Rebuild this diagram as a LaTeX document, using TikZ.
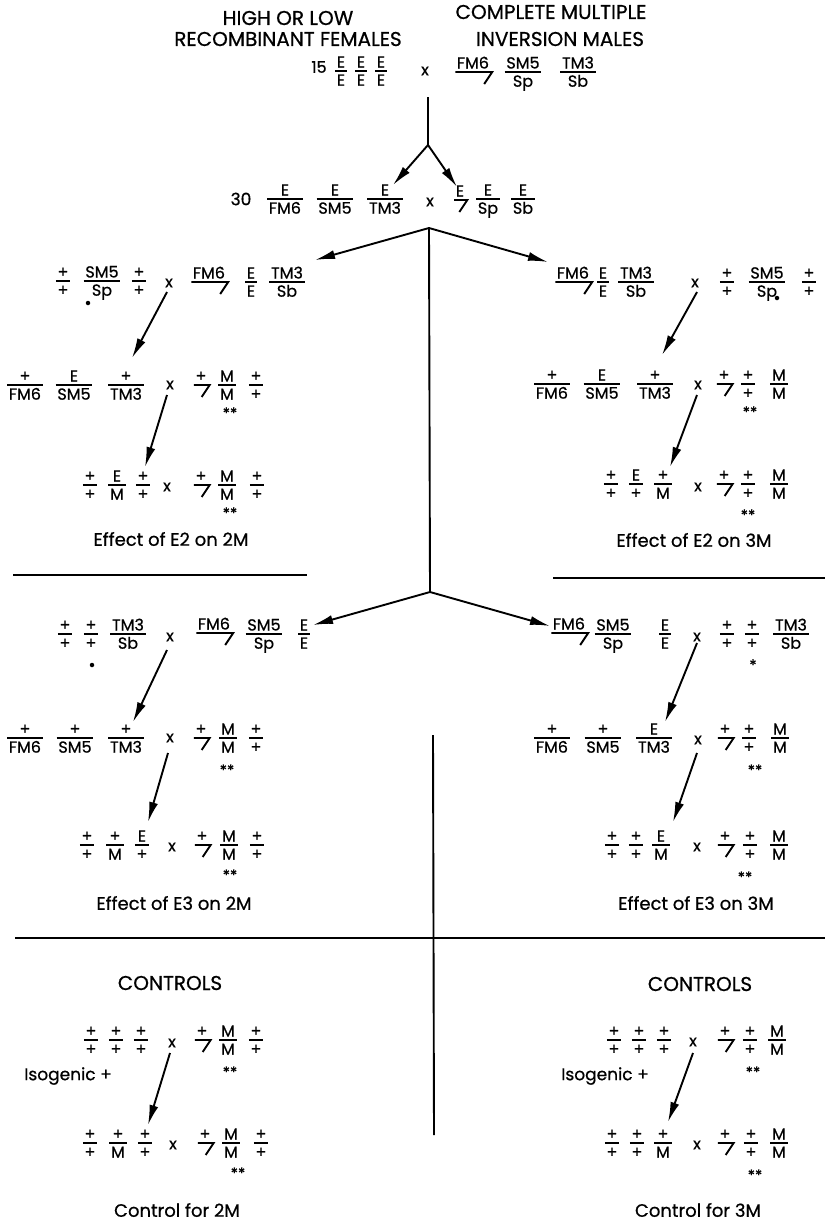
\documentclass[tikz,border=0pt]{standalone}
\usepackage{fontspec}
\setmainfont{Poppins}[FakeBold=0.7]
\usetikzlibrary{arrows.meta,calc}
\newcommand\gfr[5]{%
 \node[numr] (#1n) at (#2,#3) {#4};
 \node[denr] (#1d) at (#2,#3) {#5};
 \draw[barline] let \p1=(#1n.west),\p2=(#1d.west),\p3=(#1n.east),\p4=(#1d.east) in
   ({min(\x1,\x2)-1.5},#3) -- ({max(\x3,\x4)+1.5},#3);
}
\newcommand\gfy[4]{%
 \node[numr] (#1n) at (#2,#3) {#4};
 \draw[ystyle] let \p1=(#1n.west),\p2=(#1n.east) in
   ({\x1-1.5},#3) -- ({\x2+3},#3) -- ({\x2-5},{#3+12});
}
\begin{document}
\begin{tikzpicture}[x=1pt,y=-1pt,
 ff/.style={font=\fontsize{16}{16}\selectfont, inner sep=0pt},
 numr/.style={ff, anchor=base, yshift=3.5pt},
 denr/.style={ff, anchor=north, yshift=-3.5pt, text height=11pt, text depth=3pt},
 barline/.style={line width=1.6pt},
 ystyle/.style={line width=1.9pt, line join=miter},
 hd/.style={font=\fontsize{20}{22}\selectfont, inner sep=0pt},
 lab/.style={font=\fontsize{18}{20}\selectfont, inner sep=0pt},
 iso/.style={font=\fontsize{17}{18}\selectfont, inner sep=0pt},
 mk/.style={font=\fontsize{15}{15}\selectfont, inner sep=0pt},
 dotm/.style={circle, fill, inner sep=0pt, minimum size=4.5pt},
 arr/.style={line width=1.9pt, -{Latex[length=20pt,width=9pt]}},
 ln/.style={line width=1.9pt},
]
\useasboundingbox (0,0) rectangle (825,1224);
% headers
\node[hd] (hdA) at (288,18) {HIGH OR LOW};
\node[hd] (hdB) at (288,39) {RECOMBINANT FEMALES};
\node[hd] (hdC) at (551,12) {COMPLETE MULTIPLE};
\node[hd] (hdD) at (560,39) {INVERSION MALES};
% row 1
\node[ff, font=\fontsize{16}{16}\selectfont] (n15) at (319,67) {15};
\gfr{a1}{341}{71}{E}{E}
\gfr{a2}{361}{71}{E}{E}
\gfr{a3}{381}{71}{E}{E}
\node[ff] (ax) at (425,71) {x};
\gfy{a4}{473}{72}{FM6}
\gfr{a5}{523}{72}{SM5}{Sp}
\gfr{a6}{578}{72}{TM3}{Sb}
\coordinate (v1a) at (428,97);
\coordinate (v1b) at (428,145);
\coordinate (t1l) at (393,185);
\coordinate (t1r) at (457,187);
\draw[ln] (v1a) -- (v1b);
\draw[arr] (v1b) -- (t1l);
\draw[arr] (v1b) -- (t1r);
% row 2
\node[ff, font=\fontsize{17}{17}\selectfont] (n30) at (241,199) {30};
\gfr{b1}{285}{199}{E}{FM6}
\gfr{b2}{335}{199}{E}{SM5}
\gfr{b3}{385}{199}{E}{TM3}
\node[ff] (bx) at (430,202) {x};
\gfy{b4}{460}{200}{E}
\gfr{b5}{488}{199}{E}{Sp}
\gfr{b6}{523}{199}{E}{Sb}
\coordinate (v2) at (429,228);
\coordinate (v3) at (430,592);
\coordinate (t2l) at (315,260);
\coordinate (t2r) at (548,262);
\coordinate (t3l) at (313,625);
\coordinate (t3r) at (550,626);
\draw[ln] (v2) -- (v3);
\draw[arr] (v2) -- (t2l);
\draw[arr] (v2) -- (t2r);
\draw[arr] (v3) -- (t3l);
\draw[arr] (v3) -- (t3r);
% separators
\coordinate (s1a) at (13,575); \coordinate (s1b) at (307,575);
\coordinate (s2a) at (553,578); \coordinate (s2b) at (825,578);
\coordinate (s3a) at (15,938); \coordinate (s3b) at (825,938);
\coordinate (w1) at (433,735); \coordinate (w2) at (434,1135);
\draw[ln] (s1a) -- (s1b);
\draw[ln] (s2a) -- (s2b);
\draw[ln] (s3a) -- (s3b);
\draw[ln] (w1) -- (w2);
% ---------- E2 on 2M
\gfr{c1}{63}{281}{+}{+}
\gfr{c2}{102}{281}{SM5}{Sp}
\gfr{c3}{139}{281}{+}{+}
\node[dotm] (c2m) at (88,303) {};
\node[ff] (cx) at (169,283) {x};
\gfy{c4}{209}{282}{FM6}
\gfr{c5}{251}{282}{E}{E}
\gfr{c6}{287}{282}{TM3}{Sb}
\gfr{d1}{25}{385}{+}{FM6}
\gfr{d2}{74}{385}{E}{SM5}
\gfr{d3}{126}{385}{+}{TM3}
\node[ff] (dx) at (170,385) {x};
\gfy{d4}{201}{385}{+}
\gfr{d5}{227}{385}{M}{M}
\gfr{d6}{256}{385}{+}{+}
\node[mk] (d5m) at (230,413) {**};
\coordinate (ca1) at (167,292); \coordinate (ca2) at (132,358);
\coordinate (ca3) at (167,395); \coordinate (ca4) at (145,467);
\draw[arr] (ca1) -- (ca2);
\draw[arr] (ca3) -- (ca4);
\gfr{e1}{90}{485}{+}{+}
\gfr{e2}{117}{485}{E}{M}
\gfr{e3}{143}{485}{+}{+}
\node[ff] (ex) at (167,487) {x};
\gfy{e4}{201}{485}{+}
\gfr{e5}{227}{485}{M}{M}
\gfr{e6}{257}{485}{+}{+}
\node[mk] (e5m) at (230,513) {**};
\node[lab] (labA) at (171,539) {Effect of E2 on 2M};
% ---------- E2 on 3M
\gfy{f1}{573}{282}{FM6}
\gfr{f2}{603}{282}{E}{E}
\gfr{f3}{636}{282}{TM3}{Sb}
\node[ff] (fx) at (695,283) {x};
\gfr{f4}{727}{282}{+}{+}
\gfr{f5}{767}{282}{SM5}{Sp}
\node[dotm] (f5m) at (777,298) {};
\gfr{f6}{809}{282}{+}{+}
\gfr{g1}{552}{384}{+}{FM6}
\gfr{g2}{602}{384}{E}{SM5}
\gfr{g3}{655}{384}{+}{TM3}
\node[ff] (gx) at (698,385) {x};
\gfy{g4}{724}{384}{+}
\gfr{g5}{748}{384}{+}{+}
\gfr{g6}{779}{384}{M}{M}
\node[mk] (g5m) at (750,412) {**};
\coordinate (fa1) at (697,292); \coordinate (fa2) at (662,355);
\coordinate (fa3) at (697,395); \coordinate (fa4) at (670,467);
\draw[arr] (fa1) -- (fa2);
\draw[arr] (fa3) -- (fa4);
\gfr{h1}{611}{484}{+}{+}
\gfr{h2}{636}{484}{E}{+}
\gfr{h3}{663}{484}{+}{M}
\node[ff] (hx) at (698,487) {x};
\gfy{h4}{724}{484}{+}
\gfr{h5}{748}{484}{+}{+}
\gfr{h6}{779}{484}{M}{M}
\node[mk] (h5m) at (748,515) {**};
\node[lab] (labB) at (694,540) {Effect of E2 on 3M};
% ---------- E3 on 2M
\gfr{i1}{65}{634}{+}{+}
\gfr{i2}{91}{634}{+}{+}
\gfr{i3}{128}{634}{TM3}{Sb}
\node[dotm] (i2m) at (92,665) {};
\node[ff] (ix) at (170,637) {x};
\gfy{i4}{214}{633}{FM6}
\gfr{i5}{264}{634}{SM5}{Sp}
\gfr{i6}{304}{634}{E}{E}
\gfr{j1}{25}{738}{+}{FM6}
\gfr{j2}{75}{738}{+}{SM5}
\gfr{j3}{126}{738}{+}{TM3}
\node[ff] (jx) at (170,738) {x};
\gfy{j4}{201}{738}{+}
\gfr{j5}{228}{738}{M}{M}
\gfr{j6}{256}{738}{+}{+}
\node[mk] (j5m) at (227,770) {**};
\coordinate (ia1) at (167,650); \coordinate (ia2) at (133,722);
\coordinate (ia3) at (168,753); \coordinate (ia4) at (148,822);
\draw[arr] (ia1) -- (ia2);
\draw[arr] (ia3) -- (ia4);
\gfr{k1}{87}{845}{+}{+}
\gfr{k2}{115}{845}{+}{M}
\gfr{k3}{142}{845}{E}{+}
\node[ff] (kx) at (172,847) {x};
\gfy{k4}{202}{845}{+}
\gfr{k5}{229}{845}{M}{M}
\gfr{k6}{257}{845}{+}{+}
\node[mk] (k5m) at (230,875) {**};
\node[lab] (labC) at (174,903) {Effect of E3 on 2M};
% ---------- E3 on 3M
\gfy{l1}{569}{633}{FM6}
\gfr{l2}{613}{634}{SM5}{Sp}
\gfr{l3}{665}{634}{E}{E}
\node[ff] (lx) at (697,637) {x};
\gfr{l4}{727}{634}{+}{+}
\gfr{l5}{752}{634}{+}{+}
\gfr{l6}{791}{634}{TM3}{Sb}
\node[mk] (l5m) at (753,665) {*};
\gfr{m1}{552}{738}{+}{FM6}
\gfr{m2}{603}{738}{+}{SM5}
\gfr{m3}{654}{738}{E}{TM3}
\node[ff] (mx) at (698,740) {x};
\gfy{m4}{725}{738}{+}
\gfr{m5}{749}{738}{+}{+}
\gfr{m6}{780}{738}{M}{M}
\node[mk] (m5m) at (755,770) {**};
\coordinate (la1) at (697,643); \coordinate (la2) at (665,722);
\coordinate (la3) at (697,753); \coordinate (la4) at (673,822);
\draw[arr] (la1) -- (la2);
\draw[arr] (la3) -- (la4);
\gfr{o1}{612}{845}{+}{+}
\gfr{o2}{636}{845}{+}{+}
\gfr{o3}{661}{845}{E}{M}
\node[ff] (ox) at (697,847) {x};
\gfy{o4}{725}{845}{+}
\gfr{o5}{750}{845}{+}{+}
\gfr{o6}{779}{845}{M}{M}
\node[mk] (o5m) at (745,877) {**};
\node[lab] (labD) at (696,903) {Effect of E3 on 3M};
% ---------- Controls left
\node[hd] (ctlA) at (170,983) {CONTROLS};
\gfr{p1}{91}{1040}{+}{+}
\gfr{p2}{116}{1040}{+}{+}
\gfr{p3}{141}{1040}{+}{+}
\node[ff] (px) at (172,1043) {x};
\gfy{p4}{202}{1040}{+}
\gfr{p5}{228}{1040}{M}{M}
\gfr{p6}{256}{1040}{+}{+}
\node[mk] (p5m) at (230,1072) {**};
\node[iso] (isoA) at (68,1076) {Isogenic +};
\coordinate (pa1) at (170,1053); \coordinate (pa2) at (148,1125);
\draw[arr] (pa1) -- (pa2);
\gfr{q1}{90}{1143}{+}{+}
\gfr{q2}{118}{1143}{+}{M}
\gfr{q3}{145}{1143}{+}{+}
\node[ff] (qx) at (173,1145) {x};
\gfy{q4}{205}{1143}{+}
\gfr{q5}{231}{1143}{M}{M}
\gfr{q6}{261}{1143}{+}{+}
\node[mk] (q5m) at (238,1173) {**};
\node[lab] (conA) at (177,1210) {Control for 2M};
% ---------- Controls right
\node[hd] (ctlB) at (700,984) {CONTROLS};
\gfr{r1}{614}{1040}{+}{+}
\gfr{r2}{639}{1040}{+}{+}
\gfr{r3}{664}{1040}{+}{+}
\node[ff] (rx) at (693,1042) {x};
\gfy{r4}{725}{1040}{+}
\gfr{r5}{750}{1040}{+}{+}
\gfr{r6}{777}{1040}{M}{M}
\node[mk] (r5m) at (753,1072) {**};
\node[iso] (isoB) at (605,1076) {Isogenic +};
\coordinate (ra1) at (693,1053); \coordinate (ra2) at (668,1122);
\draw[arr] (ra1) -- (ra2);
\gfr{s1}{612}{1143}{+}{+}
\gfr{s2}{637}{1143}{+}{+}
\gfr{s3}{663}{1143}{+}{M}
\node[ff] (sx) at (697,1145) {x};
\gfy{s4}{725}{1143}{+}
\gfr{s5}{751}{1143}{+}{+}
\gfr{s6}{779}{1143}{M}{M}
\node[mk] (s5m) at (755,1175) {**};
\node[lab] (conB) at (698,1210) {Control for 3M};
\end{tikzpicture}
\end{document}
